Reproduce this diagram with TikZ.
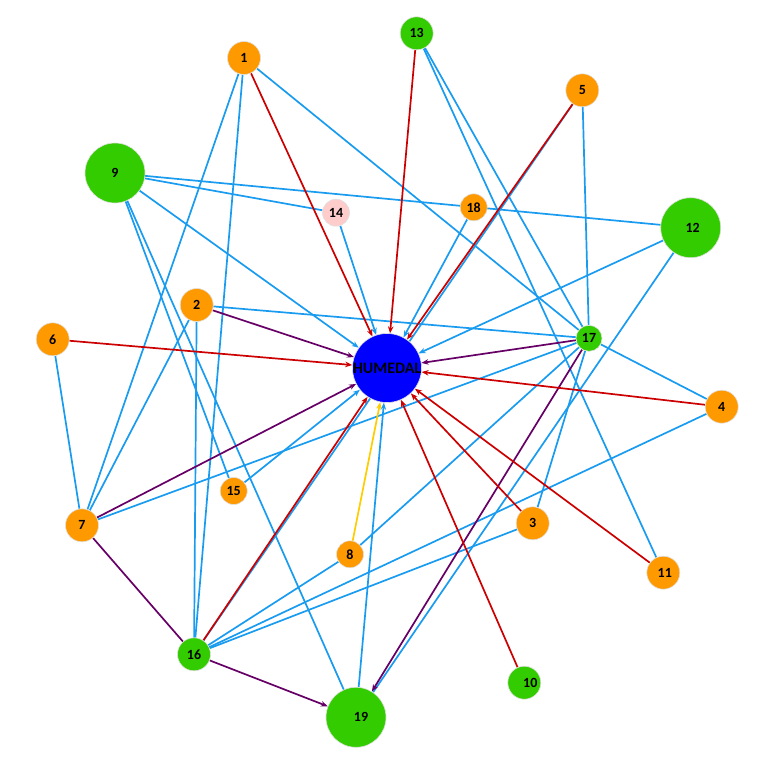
\documentclass[tikz,border=0pt]{standalone}
\usepackage{fontspec}
\setmainfont{Carlito}
\usetikzlibrary{arrows.meta}
\pgfdeclarelayer{bg}
\pgfsetlayers{bg,main}
\definecolor{eblue}{RGB}{25,155,240}
\definecolor{ered}{RGB}{204,0,0}
\definecolor{epurple}{RGB}{102,0,102}
\definecolor{eyellow}{RGB}{255,204,0}
\definecolor{corange}{RGB}{255,153,0}
\definecolor{cgreen}{RGB}{51,204,0}
\definecolor{cpink}{RGB}{255,204,204}
\definecolor{chum}{RGB}{0,0,255}
\tikzset{
  vert/.style={circle, draw=black!12, line width=0.6pt, inner sep=0pt,
    font=\bfseries\fontsize{14}{14}\selectfont, text=black},
  vbig/.style={vert, minimum size=60pt},
  vmed/.style={vert, minimum size=33pt},
  vsml/.style={vert, minimum size=27pt},
  ln/.style={line width=1.7pt},
  bline/.style={ln, draw=eblue},
  rline/.style={ln, draw=ered},
  pline/.style={ln, draw=epurple},
  yline/.style={ln, draw=eyellow},
  arr/.style={-{Stealth[length=7pt,width=5.5pt]}},
}
\begin{document}
\begin{tikzpicture}[x=1pt,y=-1pt]
\useasboundingbox (0,0) rectangle (765,763);
% nodes
\node[vert, minimum size=67pt, fill=chum, font=\bfseries\fontsize{16}{16}\selectfont] (H) at (387,368) {HUMEDAL};
\node[vmed, fill=corange] (n1) at (244,58) {1};
\node[vmed, fill=corange] (n2) at (196.7,305) {2};
\node[vmed, fill=corange] (n3) at (532.7,523.3) {3};
\node[vmed, fill=corange] (n4) at (721.7,406.7) {4};
\node[vmed, fill=corange] (n5) at (582.3,90.3) {5};
\node[vmed, fill=corange] (n6) at (52.7,339.3) {6};
\node[vmed, fill=corange] (n7) at (82,525.3) {7};
\node[vsml, fill=corange] (n8) at (350,554.3) {8};
\node[vbig, fill=cgreen] (n9) at (115,173) {9};
\node[vmed, fill=cgreen] (n10) at (524.3,682.7) {\hspace*{12pt}10};
\node[vmed, fill=corange] (n11) at (663.3,572.7) {\hspace*{3pt}11};
\node[vbig, fill=cgreen] (n12) at (690.7,227.7) {\hspace*{4pt}12};
\node[vmed, fill=cgreen] (n13) at (416.7,33.3) {13};
\node[vsml, fill=cpink] (n14) at (336,212.7) {14};
\node[vsml, fill=corange] (n15) at (233.7,491) {15};
\node[vmed, fill=cgreen] (n16) at (194,654.3) {16};
\node[vsml, fill=cgreen, minimum size=26pt] (n17) at (589,338.3) {17};
\node[vsml, fill=corange] (n18) at (473.7,207.3) {18};
\node[vbig, fill=cgreen] (n19) at (356,717.3) {\hspace*{10pt}\raisebox{-3pt}{19}};
% edges
\begin{pgfonlayer}{bg}
\draw[bline] (n1) -- (n7);
\draw[bline] (n1) -- (n16);
\draw[bline] (n1) -- (n17);
\draw[bline] (n13) -- (n17);
\draw[bline] (n13) -- (n11);
\draw[bline] (n5) -- (n16);
\draw[bline] (n5) -- (n17);
\draw[bline] (n9) -- (n12);
\draw[bline] (n9) -- (n14);
\draw[bline] (n9) -- (n15);
\draw[bline] (n9) -- (n19);
\draw[bline] (n12) -- (n19);
\draw[bline] (n2) -- (n17);
\draw[bline] (n2) -- (n7);
\draw[bline] (n2) -- (n16);
\draw[bline] (n6) -- (n7);
\draw[bline] (n7) -- (n17);
\draw[bline] (n17) -- (n4);
\draw[bline] (n17) -- (n3);
\draw[bline] (n17) -- (n8);
\draw[bline] (n8) -- (n16);
\draw[bline] (n4) -- (n16);
\draw[bline] (n3) -- (n16);
% blue arrows to HUMEDAL
\draw[bline, arr] (n9) -- (H);
\draw[bline, arr] (n14) -- (H);
\draw[bline, arr] (n18) -- (H);
\draw[bline, arr] (n12) -- (H);
\draw[bline, arr] (n15) -- (H);
\draw[bline, arr] (n19) -- (H);
% purple
\draw[pline] (n7) -- (n16);
\draw[pline, arr] (n16) -- (n19);
\draw[pline, arr] (n17) -- (n19);
\draw[pline, arr] (n2) -- (H);
\draw[pline, arr] (n17) -- (H);
\draw[pline, arr] (n7) -- (H);
% yellow
\draw[yline, arr] (n8) -- (H);
% red arrows to HUMEDAL
\draw[rline, arr] (n1) -- (H);
\draw[rline, arr] (n13) -- (H);
\draw[rline, arr] (n5) -- (H);
\draw[rline, arr] (n6) -- (H);
\draw[rline, arr] (n4) -- (H);
\draw[rline, arr] (n3) -- (H);
\draw[rline, arr] (n11) -- (H);
\draw[rline, arr] (n10) -- (H);
\draw[rline, arr] (n16) -- (H);
\end{pgfonlayer}
\end{tikzpicture}
\end{document}
